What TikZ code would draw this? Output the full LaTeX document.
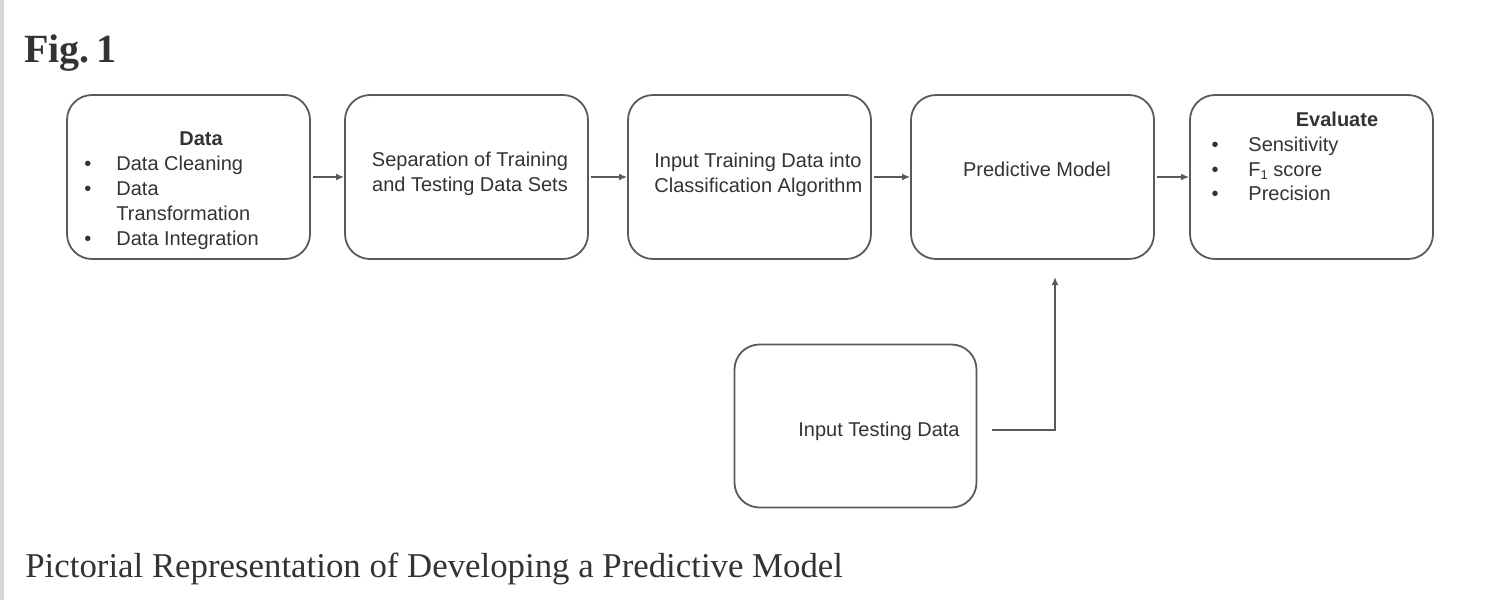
\documentclass[tikz,border=0pt]{standalone}
\usepackage{fontspec}
\setmainfont{Liberation Serif}
\setsansfont{Liberation Sans}
\usetikzlibrary{arrows.meta}
\definecolor{linegray}{HTML}{5A5A5A}
\definecolor{txtgray}{HTML}{333333}
\definecolor{stripgray}{HTML}{D8D8D8}
\begin{document}
\begin{tikzpicture}[x=0.5pt,y=-0.5pt,
  box/.style={draw=linegray,line width=0.9pt,rounded corners=12.5pt,minimum width=121.5pt,minimum height=82pt,inner sep=0pt},
  txt/.style={font=\sffamily\fontsize{10}{12.4}\selectfont,text=txtgray,inner sep=0pt},
  btxt/.style={txt,font=\sffamily\bfseries\fontsize{10}{12.4}\selectfont},
  conn/.style={draw=linegray,line width=0.7pt,-{Latex[length=4pt,width=3.4pt]}}]
\useasboundingbox (0,0) rectangle (1494,600);
\fill[stripgray] (0,0) rectangle (4,600);
% title and caption
\node[anchor=base west,inner sep=0pt,text=txtgray,font=\bfseries\fontsize{20}{22}\selectfont] (fig) at (24,62) {Fig.\,1};
\node[anchor=base west,inner sep=0pt,text=txtgray,font=\fontsize{17.4}{20}\selectfont] (cap) at (25,577) {Pictorial Representation of Developing a Predictive Model};
% boxes
\node[box] (b1) at (188.5,177) {};
\node[box] (b2) at (466.5,177) {};
\node[box] (b3) at (749.5,177) {};
\node[box] (b4) at (1032.5,177) {};
\node[box] (b5) at (1311.5,177) {};
\node[box,minimum width=121pt,minimum height=81.5pt] (b6) at (855.5,426) {};
% box 1 text
\node[btxt,anchor=base] (t1h) at (201,145) {Data};
\node[txt,anchor=base] (t1b1) at (88,170) {•};
\node[txt,anchor=base west] (t1a) at (116,170) {Data Cleaning};
\node[txt,anchor=base] (t1b2) at (88,195) {•};
\node[txt,anchor=base west] (t1c) at (116,195) {Data};
\node[txt,anchor=base west] (t1d) at (116,220) {Transformation};
\node[txt,anchor=base] (t1b3) at (88,245) {•};
\node[txt,anchor=base west] (t1e) at (116,245) {Data Integration};
% box 2 text
\node[txt,align=center,anchor=base] (t2) at (470,191) {Separation of Training\\and Testing Data Sets};
% box 3 text
\node[txt,align=left,anchor=base west] (t3) at (654,192) {Input Training Data into\\Classification Algorithm};
% box 4 text
\node[txt,anchor=base] (t4) at (1037,176) {Predictive Model};
% box 5 text
\node[btxt,anchor=base] (t5h) at (1337,126) {Evaluate};
\node[txt,anchor=base] (t5b1) at (1215,151) {•};
\node[txt,anchor=base west] (t5a) at (1248,151) {Sensitivity};
\node[txt,anchor=base] (t5b2) at (1215,176) {•};
\node[txt,anchor=base west] (t5c) at (1248,176) {F{\fontsize{6.5}{7}\selectfont\raisebox{-1.5pt}{1}} score};
\node[txt,anchor=base] (t5b3) at (1215,200) {•};
\node[txt,anchor=base west] (t5d) at (1248,200) {Precision};
% box 6 text
\node[txt,anchor=base] (t6) at (879,436) {Input Testing Data};
% connectors
\draw[conn,shorten <=1pt] (b1) -- (b2);
\draw[conn,shorten <=1pt] (b2) -- (b3);
\draw[conn,shorten <=1pt] (b3) -- (b4);
\draw[conn,shorten <=1pt] (b4) -- (b5);
\coordinate (tip) at (1055,277);
\draw[conn,shorten <=7.5pt] ([yshift=-2pt]b6.east) -| (tip);
\end{tikzpicture}
\end{document}
